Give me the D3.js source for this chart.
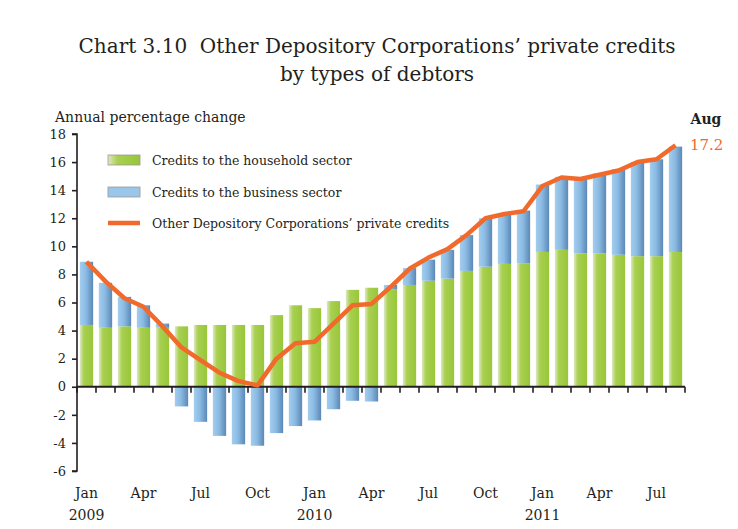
<!DOCTYPE html>
<html>
<head>
<meta charset="utf-8">
<script src="https://cdn.jsdelivr.net/npm/d3@7"></script>
<style>
  body { margin: 0; background: #fff; }
  svg { display: block; font-family: "DejaVu Serif", "Liberation Serif", serif; }
</style>
</head>
<body>
<svg id="chart" width="738" height="529"></svg>
<script>
// monthly data, Jan 2009 - Aug 2011
const months = ['Jan', 'Feb', 'Mar', 'Apr', 'May', 'Jun', 'Jul', 'Aug', 'Sep', 'Oct', 'Nov', 'Dec'];
const periods = d3.range(32).map(i => `${2009 + Math.floor(i / 12)}-${months[i % 12]}`);

const household = [4.4, 4.2, 4.3, 4.2, 4.2, 4.3, 4.4, 4.4, 4.4, 4.4, 5.1, 5.8,
  5.6, 6.1, 6.9, 7.05, 6.95, 7.25, 7.55, 7.7, 8.25, 8.55, 8.75, 8.8,
  9.6, 9.75, 9.5, 9.5, 9.4, 9.3, 9.3, 9.6];
const business = [4.5, 3.2, 2.1, 1.6, 0.3, -1.4, -2.5, -3.5, -4.1, -4.2, -3.3, -2.8,
  -2.4, -1.6, -1.0, -1.05, 0.3, 1.2, 1.5, 2.05, 2.55, 3.45, 3.5, 3.75,
  4.8, 5.2, 5.25, 5.7, 6.1, 6.7, 6.9, 7.5];
const total = [8.9, 7.5, 6.3, 5.7, 4.3, 2.8, 1.9, 1.0, 0.4, 0.1, 2.0, 3.1,
  3.2, 4.5, 5.8, 5.9, 7.1, 8.4, 9.2, 9.8, 10.8, 12.0, 12.3, 12.5,
  14.3, 14.9, 14.8, 15.1, 15.4, 16.0, 16.2, 17.2];

const yTicks = d3.range(-6, 19, 2);
const seriesNames = ['Credits to the household sector', 'Credits to the business sector',
  'Other Depository Corporations’ private credits'];

const svg = d3.select('#chart');
const ink = '#231f20';
const orange = '#f26a2b';
const serif = '"DejaVu Serif", serif';

const x = d3.scaleBand().domain(periods).range([77, 685]).paddingInner(0.3).paddingOuter(0.15);
const y = d3.scaleLinear().domain([-6, 18]).range([471, 134]);

// gradients
const defs = svg.append('defs');
function grad(id, stops) {
  const g = defs.append('linearGradient').attr('id', id).attr('x1', 0).attr('x2', 1).attr('y1', 0).attr('y2', 0);
  stops.forEach(([o, c]) => g.append('stop').attr('offset', o).attr('stop-color', c));
}
grad('green', [[0, '#dfe8c4'], [0.3, '#a9d050'], [1, '#98c63a']]);
grad('blue', [[0, '#a3cdef'], [0.45, '#8bbbe3'], [1, '#5b88b6']]);

// title
svg.append('text').attr('x', 377).attr('y', 53).attr('text-anchor', 'middle')
  .attr('font-size', 20).attr('fill', ink).attr('xml:space', 'preserve')
  .text('Chart 3.10\u00a0\u00a0Other Depository Corporations’ private credits');
svg.append('text').attr('x', 377).attr('y', 81).attr('text-anchor', 'middle')
  .attr('font-size', 20).attr('fill', ink)
  .text('by types of debtors');

svg.append('text').attr('x', 55).attr('y', 122).attr('font-size', 14).attr('fill', ink)
  .text('Annual percentage change');

// bars
const rows = periods.map((p, i) => ({ period: p, household: household[i], business: business[i] }));
const stacked = d3.stack().keys(['household', 'business']).offset(d3.stackOffsetDiverging)(rows);

svg.append('g').selectAll('g')
  .data(stacked)
  .join('g')
  .attr('fill', d => d.key === 'household' ? 'url(#green)' : 'url(#blue)')
  .selectAll('rect')
  .data(d => d)
  .join('rect')
  .attr('x', d => x(d.data.period))
  .attr('width', x.bandwidth())
  .attr('y', d => y(Math.max(d[0], d[1])))
  .attr('height', d => Math.abs(y(d[0]) - y(d[1])));

// y axis
const yAxis = svg.append('g')
  .attr('transform', 'translate(77,0)')
  .call(d3.axisLeft(y).tickValues(yTicks).tickSize(5).tickPadding(6).tickFormat(d => String(d)));
yAxis.select('.domain').attr('stroke', ink).attr('stroke-width', 1.6).attr('d', `M-5,${y(-6)}H0V${y(18)}H-5`);
yAxis.selectAll('.tick line').attr('stroke', ink).attr('stroke-width', 1.6);
yAxis.selectAll('.tick text').attr('font-family', serif).attr('font-size', 13).attr('fill', ink);

// x axis on zero line
const xAxis = svg.append('g');
xAxis.append('line').attr('x1', 77).attr('x2', 685).attr('y1', y(0)).attr('y2', y(0))
  .attr('stroke', ink).attr('stroke-width', 2);
xAxis.selectAll('line.tick')
  .data(d3.range(periods.length + 1))
  .join('line')
  .attr('class', 'tick')
  .attr('x1', i => 77 + i * x.step()).attr('x2', i => 77 + i * x.step())
  .attr('y1', y(0)).attr('y2', y(0) + 6)
  .attr('stroke', ink).attr('stroke-width', 1.6);

const labelled = periods.map((p, i) => i).filter(i => i % 3 === 0);
xAxis.selectAll('text.month')
  .data(labelled)
  .join('text')
  .attr('class', 'month')
  .attr('x', i => x(periods[i]) + x.bandwidth() / 2)
  .attr('y', 498)
  .attr('text-anchor', 'middle')
  .attr('font-size', 14).attr('fill', ink)
  .text(i => months[i % 12]);
xAxis.selectAll('text.year')
  .data(labelled.filter(i => i % 12 === 0))
  .join('text')
  .attr('class', 'year')
  .attr('x', i => x(periods[i]) + x.bandwidth() / 2)
  .attr('y', 520)
  .attr('text-anchor', 'middle')
  .attr('font-size', 14).attr('fill', ink)
  .text(i => 2009 + i / 12);

// total line
const line = d3.line()
  .x((d, i) => x(periods[i]) + x.bandwidth() / 2)
  .y(d => y(d));
svg.append('path')
  .datum(total)
  .attr('d', line)
  .attr('fill', 'none')
  .attr('stroke', orange)
  .attr('stroke-width', 4.5)
  .attr('stroke-linejoin', 'round');

// end label
svg.append('text').attr('x', 706).attr('y', 124).attr('text-anchor', 'middle')
  .attr('font-size', 14).attr('font-weight', 'bold').attr('fill', ink).text('Aug');
svg.append('text').attr('x', 690).attr('y', 150)
  .attr('font-size', 15).attr('fill', orange).text(d3.format('.1f')(total[total.length - 1]));

// legend
const legend = svg.append('g');
const legendY = [160, 192, 223];
legend.append('rect').attr('x', 108).attr('y', legendY[0] - 5).attr('width', 32).attr('height', 10)
  .attr('fill', 'url(#green)').attr('stroke', '#9a9a9a').attr('stroke-width', 0.8);
legend.append('rect').attr('x', 108).attr('y', legendY[1] - 5).attr('width', 32).attr('height', 10)
  .attr('fill', '#9ac6ea').attr('stroke', '#9a9a9a').attr('stroke-width', 0.8);
legend.append('line').attr('x1', 108).attr('x2', 140).attr('y1', legendY[2]).attr('y2', legendY[2])
  .attr('stroke', orange).attr('stroke-width', 4.5);
legend.selectAll('text')
  .data(seriesNames)
  .join('text')
  .attr('x', 152)
  .attr('y', (d, i) => legendY[i] + 5)
  .attr('font-size', 12.5).attr('fill', ink)
  .text(d => d);
</script>
</body>
</html>
